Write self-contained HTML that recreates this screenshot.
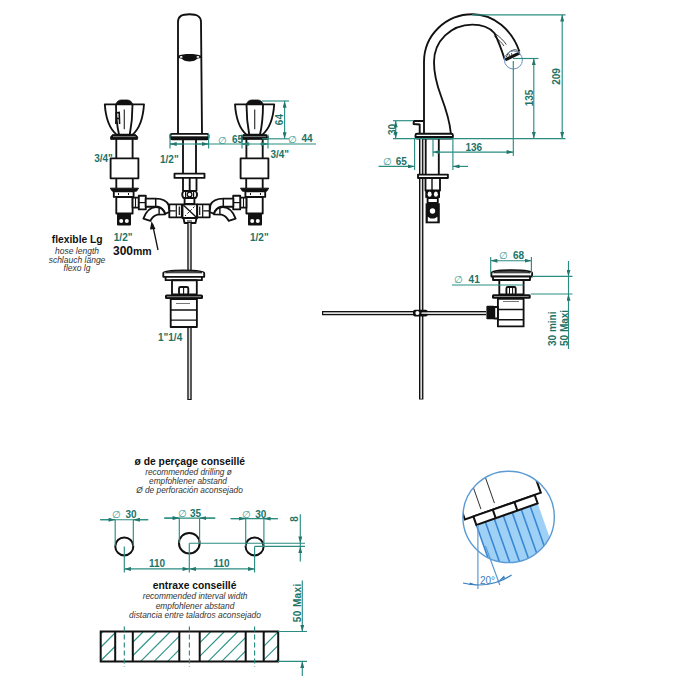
<!DOCTYPE html>
<html><head><meta charset="utf-8">
<style>
html,body{margin:0;padding:0;background:#fff;}
svg{display:block;}
text{font-family:"Liberation Sans",sans-serif;}
.k{stroke:#111;fill:none;stroke-width:1.85;stroke-linejoin:round;}
.kf{stroke:#111;fill:#fff;stroke-width:1.85;stroke-linejoin:round;}
.d{stroke:#2b8d82;fill:none;stroke-width:1.15;}
.t{fill:#1d7367;font-size:10px;font-weight:bold;}
.tb{fill:#111;font-weight:bold;}
.ti{fill:#333;font-style:italic;}
</style></head>
<body>
<svg width="700" height="700" viewBox="0 0 700 700">
<defs>
<marker id="ar" viewBox="0 0 10 6" refX="10" refY="3" markerWidth="7" markerHeight="4" orient="auto-start-reverse" markerUnits="userSpaceOnUse">
<path d="M0,0 L10,3 L0,6 z" fill="#22786e"/>
</marker>
<marker id="arb" viewBox="0 0 10 6" refX="10" refY="3" markerWidth="7" markerHeight="4" orient="auto-start-reverse" markerUnits="userSpaceOnUse">
<path d="M0,0 L10,3 L0,6 z" fill="#3a7fc0"/>
</marker>
</defs>

<!-- ================= FRONT VIEW ================= -->
<g id="front">
<!-- spout -->
<path class="k" d="M178,133.5 L178,22 C178,16 182,14.2 189.5,14.2 C197,14.2 201,16 201,22 L202,133.5"/>
<path d="M178,55.8 C183,53.4 196,53.4 201,55.8 L201,58 C198.5,58.2 197,58.6 196,59.8 C193.5,62 185.5,62 183,59.8 C182,58.6 180.5,58.2 178,58z" fill="#111"/>
<ellipse cx="181.2" cy="56.9" rx="1.4" ry="0.9" fill="#fff"/>
<ellipse cx="197.9" cy="56.9" rx="1.4" ry="0.9" fill="#fff"/>
<!-- flange -->
<rect class="kf" x="170.5" y="133.8" width="38" height="5.4" rx="1.5"/>
<rect x="171" y="136.3" width="37" height="2.8" fill="#111"/>
<!-- shank -->
<path class="k" d="M183,139 L183,173.5 M196,139 L196,173.5"/>
<rect class="kf" x="174.5" y="173.6" width="30" height="4.3"/>
<path class="k" d="M183,178 L183,191 M196.5,178 L196.5,191 M189.7,178 L189.7,191" stroke-width="1.5"/>
<path class="kf" d="M183.5,191 L195.7,191 Q198.3,194.5 195.7,198 L183.5,198 Q181,194.5 183.5,191z"/>
<path d="M185.6,191 L185.6,198 M193.6,191 L193.6,198" stroke="#111" stroke-width="1.2"/>
<circle cx="189.6" cy="194.5" r="2.3" fill="#fff" stroke="#111" stroke-width="1.3"/>
<rect class="kf" x="184.6" y="198" width="9.8" height="6"/>
<!-- cross -->
<rect class="kf" x="182.5" y="204.3" width="14.6" height="13.7"/>
<path d="M183,204.8 L196.6,217.5" stroke="#111" stroke-width="1.4"/>
<path d="M194.5,206.5 L185,216" stroke="#111" stroke-width="1" stroke-dasharray="2,2"/>
<path class="kf" d="M183.5,218 L196.5,218 L195.5,223 L184.5,223z"/>
<path d="M187,221 L192,221" stroke="#111" stroke-width="1"/>
<!-- side nuts -->
<rect class="kf" x="169.3" y="204.3" width="12.5" height="13"/>
<path d="M176.3,204.3 L176.3,217.3 M169.5,210.8 L175.5,210.8 M179.3,206.5 L179.3,215" stroke="#111" stroke-width="1.2"/>
<rect class="kf" x="197.2" y="204.3" width="12.5" height="13"/>
<path d="M202.7,204.3 L202.7,217.3 M203.5,210.8 L209.5,210.8 M199.7,206.5 L199.7,215" stroke="#111" stroke-width="1.2"/>
<!-- rod -->
<path d="M189.5,223 L189.5,400" stroke="#111" stroke-width="4.4"/>
<path d="M189.5,223 L189.5,399" stroke="#ddd" stroke-width="1.7"/>
</g>

<g id="valveL">
<!-- knob -->
<path class="kf" d="M104.8,104.3 L144,104.3 C143,120 138,130 132.6,134.6 L116.6,134.6 C111,130 105.8,120 104.8,104.3z"/>
<path class="k" stroke-width="1.2" d="M116,104.5 C116,118 117.5,128 119,134.5 M132.5,104.5 C132.5,118 131,128 129.8,134.5"/>
<path d="M115.5,104.5 L117.5,101.5 Q119,100 121,100 L127.5,100 Q129.5,100 131,101.5 L133,104.5z" fill="#111" stroke="#111" stroke-width="0.8"/>
<path d="M124.3,109.6 L124.3,129.3" stroke="#333" stroke-width="1.2"/>
<!-- ring -->
<path d="M112.5,134.6 L135.7,134.6 L137.8,137 L137.5,139.4 L110.7,139.4 L110.5,137z" fill="#111" stroke="#111" stroke-width="0.8" stroke-linejoin="round"/>
<path d="M113,136.6 L135.5,136.6" stroke="#888" stroke-width="0.9"/>
<!-- stem -->
<path class="k" d="M116.3,139 L116.3,158.2 M132.6,139 L132.6,158.2"/>
<rect class="kf" x="110.6" y="158.3" width="27.8" height="20"/>
<path class="k" d="M116.3,178.3 L116.3,188.3 M132.8,178.3 L132.8,188.3"/>
<path d="M110.3,188.2 L138.5,188.2 L136.5,191.2 L112.3,191.2z" fill="#111" stroke="#111" stroke-width="1"/>
<rect class="kf" x="113.8" y="191.3" width="19.8" height="5.6"/>
<path d="M118.5,193 L118.5,195 M128.5,193 L128.5,195" stroke="#111" stroke-width="1"/>
<rect class="kf" x="116.3" y="197" width="16.3" height="16.5"/>
<rect class="kf" x="132.6" y="197.6" width="6.2" height="10" stroke-width="1.4"/>
<path d="M135.5,197.6 L135.5,207.6" stroke="#111" stroke-width="1.1"/>
<rect class="kf" x="138.8" y="195.7" width="7" height="13.7"/>
<path d="M138.8,202.6 L145.8,202.6" stroke="#111" stroke-width="1.2"/>
<!-- bottom connector -->
<rect x="117" y="213.8" width="14" height="11.7" rx="1" fill="#111"/>
<circle cx="121.2" cy="221" r="2" fill="#fff"/>
<circle cx="126.8" cy="221" r="2" fill="#fff"/>
<!-- hose -->
<path class="kf" d="M145.7,198.6 L155.7,198.6 C161.5,198.6 166.8,201 168.6,205 L169.3,212 L165,213.8 C164,210 161.5,207.5 158,206.7 L145.7,206.7z"/>
<path d="M155.7,198.6 L155.7,206.7" stroke="#111" stroke-width="1.5"/>
<path class="kf" d="M143.4,218.6 C146,211.5 151,207.3 156,207.2 C160.5,207.2 163.8,210 165,214.3 L157.5,214.6 C154,215.5 152,217.5 150.3,220.9z"/>
<path d="M159.1,208 L159.1,214.5" stroke="#111" stroke-width="1.4"/>
</g>
<g transform="translate(379,0) scale(-1,1)">
<!-- knob -->
<path class="kf" d="M104.8,104.3 L144,104.3 C143,120 138,130 132.6,134.6 L116.6,134.6 C111,130 105.8,120 104.8,104.3z"/>
<path class="k" stroke-width="1.2" d="M116,104.5 C116,118 117.5,128 119,134.5 M132.5,104.5 C132.5,118 131,128 129.8,134.5"/>
<path d="M115.5,104.5 L117.5,101.5 Q119,100 121,100 L127.5,100 Q129.5,100 131,101.5 L133,104.5z" fill="#111" stroke="#111" stroke-width="0.8"/>
<path d="M124.3,109.6 L124.3,129.3" stroke="#333" stroke-width="1.2"/>
<!-- ring -->
<path d="M112.5,134.6 L135.7,134.6 L137.8,137 L137.5,139.4 L110.7,139.4 L110.5,137z" fill="#111" stroke="#111" stroke-width="0.8" stroke-linejoin="round"/>
<path d="M113,136.6 L135.5,136.6" stroke="#888" stroke-width="0.9"/>
<!-- stem -->
<path class="k" d="M116.3,139 L116.3,158.2 M132.6,139 L132.6,158.2"/>
<rect class="kf" x="110.6" y="158.3" width="27.8" height="20"/>
<path class="k" d="M116.3,178.3 L116.3,188.3 M132.8,178.3 L132.8,188.3"/>
<path d="M110.3,188.2 L138.5,188.2 L136.5,191.2 L112.3,191.2z" fill="#111" stroke="#111" stroke-width="1"/>
<rect class="kf" x="113.8" y="191.3" width="19.8" height="5.6"/>
<path d="M118.5,193 L118.5,195 M128.5,193 L128.5,195" stroke="#111" stroke-width="1"/>
<rect class="kf" x="116.3" y="197" width="16.3" height="16.5"/>
<rect class="kf" x="132.6" y="197.6" width="6.2" height="10" stroke-width="1.4"/>
<path d="M135.5,197.6 L135.5,207.6" stroke="#111" stroke-width="1.1"/>
<rect class="kf" x="138.8" y="195.7" width="7" height="13.7"/>
<path d="M138.8,202.6 L145.8,202.6" stroke="#111" stroke-width="1.2"/>
<!-- bottom connector -->
<rect x="117" y="213.8" width="14" height="11.7" rx="1" fill="#111"/>
<circle cx="121.2" cy="221" r="2" fill="#fff"/>
<circle cx="126.8" cy="221" r="2" fill="#fff"/>
<!-- hose -->
<path class="kf" d="M145.7,198.6 L155.7,198.6 C161.5,198.6 166.8,201 168.6,205 L169.3,212 L165,213.8 C164,210 161.5,207.5 158,206.7 L145.7,206.7z"/>
<path d="M155.7,198.6 L155.7,206.7" stroke="#111" stroke-width="1.5"/>
<path class="kf" d="M143.4,218.6 C146,211.5 151,207.3 156,207.2 C160.5,207.2 163.8,210 165,214.3 L157.5,214.6 C154,215.5 152,217.5 150.3,220.9z"/>
<path d="M159.1,208 L159.1,214.5" stroke="#111" stroke-width="1.4"/>
</g>
<path d="M115.8,124 L116.2,113 L119.2,112.5 L119.6,124 M116,118.5 L119.3,118.5" stroke="#111" stroke-width="1.6" fill="none"/>

<!-- front dims -->
<g class="d">
<path d="M170,134 L170,148.5 M208.6,134 L208.6,148.5"/>
<path d="M242,144 L250,144" marker-start="url(#ar)"/>
<path d="M260,144 L268,144" marker-end="url(#ar)"/>
<path d="M242,134.5 L242,148.5 M268,134.5 L268,148.5"/>
<path d="M170,144 L316,144"/>
<path d="M170,144 L182,144" marker-start="url(#ar)"/>
<path d="M196,144 L208.6,144" marker-end="url(#ar)"/>
<path d="M262,138.8 L289,138.8"/>
<path d="M262,101 L289,101"/>
<path d="M284.6,101 L284.6,138.8" marker-start="url(#ar)" marker-end="url(#ar)"/>
</g>
<text class="t" x="218" y="143.8" font-weight="normal" style="font-weight:normal;fill:#3a9a90">&#8709;</text>
<text class="t" x="232" y="143.3">65</text>
<text class="t" x="288.3" y="142.6" style="font-weight:normal;fill:#3a9a90">&#8709;</text>
<text class="t" x="301.5" y="141.8">44</text>
<text class="t" transform="translate(283,119.6) rotate(-90)" text-anchor="middle">64</text>
<text class="t" x="94.2" y="162.3">3/4"</text>
<text class="t" x="160" y="163.1">1/2"</text>
<text class="t" x="270.4" y="158.2">3/4"</text>
<text class="t" x="113.8" y="240.6">1/2"</text>
<text class="t" x="250" y="240.6">1/2"</text>
<text class="t" x="158" y="341.2">1"1/4</text>
<text class="tb" x="77.2" y="242.5" font-size="10.3" text-anchor="middle">flexible Lg</text>
<text class="ti" x="77" y="253.6" font-size="8.5" text-anchor="middle">hose length</text>
<text class="ti" x="77" y="262.5" font-size="8.5" text-anchor="middle">schlauch länge</text>
<text class="ti" x="77" y="271.2" font-size="8.5" text-anchor="middle">flexo lg</text>
<text class="tb" x="113" y="254.7" font-size="12">300<tspan font-size="10.5">mm</tspan></text>
<path d="M158,250 L152.5,224" stroke="#111" stroke-width="1.3"/>
<path d="M151.5,221 L155.5,229 L150,229.5z" fill="#111"/>

<!-- drain front -->
<g>
<path class="kf" d="M163.3,273 C163.3,270.5 175,270.3 183.5,270.3 C192,270.3 204.2,270.5 204.2,273 L204.2,276.8 L163.3,276.8z"/>
<path d="M165.5,272.8 C170,271.3 178,271 183.7,271 C189.5,271 197.5,271.3 202,272.8z" fill="#666" stroke="#222" stroke-width="0.9"/>
<rect x="172" y="280.3" width="24.8" height="1.8" fill="#222"/>
<rect class="kf" x="165.6" y="276.9" width="36.3" height="3.3"/>
<path class="kf" d="M172,280.2 L196.8,280.2 L196.8,294.4 L172,294.4z"/>
<rect class="kf" x="179" y="287" width="9.3" height="7.3" rx="1.5" stroke-width="1.3"/>
<path d="M183.6,287 L183.6,294.3" stroke="#111" stroke-width="1.1"/>
<rect x="165" y="294.4" width="38" height="4.6" rx="1.5" fill="#111"/>
<rect x="167" y="296.2" width="34" height="1" fill="#888"/>
<path class="kf" d="M170.7,299 L196.9,299 L196.9,327 L170.7,327z"/>
<path d="M170.7,310 L196.9,310 M170.7,320.1 L196.9,320.1" stroke="#111" stroke-width="1.4"/>
<path d="M176,303.5 L190,303.5" stroke="#555" stroke-width="0.8"/>
</g>

<!-- ================= SIDE VIEW ================= -->
<g id="side">
<path class="k" d="M424,133.5 L424,62 C424,35 446,14.3 472.5,14.3 C494,14.3 512,30 519.4,51.5"/>
<path class="k" d="M450.8,133 C450,124 447,112 441,96 C436.5,84 434,74 434,62 C434,41 451,24.6 472.3,24.6 C482,24.6 490,28 494.3,33 C499,42 502,51 504.8,59.6"/>
<path d="M495.4,33.8 C500,37 504,41 506.3,44.6 M494.5,36.5 C498.5,39.5 502,43 504,46" stroke="#111" stroke-width="0.8" fill="none"/>
<path d="M505.3,59.8 L519.8,52.8" stroke="#111" stroke-width="3"/>
<path d="M506.5,57 C507.5,52.5 511,50 515.5,49.8 C517,50 518,51 518.3,52.3" stroke="#333" stroke-width="1" fill="none"/>
<path d="M509,54 L509.8,57.5 M511.5,53 L512,55.5" stroke="#333" stroke-width="0.9"/>
<circle cx="513.4" cy="60" r="9" fill="none" stroke="#6d8fbd" stroke-width="1"/>
<!-- lever -->
<path class="k" stroke-width="1.4" d="M424,121 L414,121 L413.5,124 L419.7,124.5 L419.7,133.5"/>
<!-- flange -->
<rect class="kf" x="415.5" y="133.7" width="37.4" height="4.9" rx="1.5"/>
<rect x="416" y="136" width="36.5" height="2.6" fill="#111"/>
<!-- rod -->
<path d="M421.2,138 L421.2,399.5" stroke="#111" stroke-width="4.4"/>
<path d="M421.2,139 L421.2,398.8" stroke="#ddd" stroke-width="1.7"/>
<path class="k" d="M425.7,138.6 L425.7,174.5 M438.8,138.6 L438.8,174.5"/>
<rect class="kf" x="418" y="174.6" width="29.9" height="3.4"/>
<rect class="kf" x="425.5" y="178" width="14.5" height="12.5"/>
<path d="M432,178 L432,190.5" stroke="#111" stroke-width="1.4"/>
<rect x="425.3" y="190.3" width="14.7" height="7.6" fill="#111"/>
<ellipse cx="429.6" cy="194.2" rx="2" ry="2.6" fill="#fff"/>
<ellipse cx="435.9" cy="194.2" rx="2" ry="2.6" fill="#fff"/>
<rect class="kf" x="427.6" y="198" width="10.2" height="5"/>
<path d="M425.6,203.3 L439.8,203.3 L439.8,223.3 L425.6,223.3z" fill="#111"/>
<circle cx="432.5" cy="211" r="2.7" fill="#fff"/>
<path d="M427.8,216.8 L430.5,218.5 L434.5,218.5 L437.4,216.8 L437.4,221.6 L427.8,221.6z" fill="#fff"/>
<!-- drain side -->
<path class="kf" d="M491.4,273 C491.4,270.7 502,270.2 511.7,270.2 C521.5,270.2 532.1,270.7 532.1,273 L532.1,276.5 L491.4,276.5z"/>
<path d="M493.6,272.8 C498,271.3 506,271 511.7,271 C517.5,271 525.5,271.3 530,272.8z" fill="#666" stroke="#222" stroke-width="0.9"/>
<rect x="499.3" y="280.3" width="24.3" height="1.8" fill="#222"/>
<rect class="kf" x="493" y="276.6" width="37" height="3.4"/>
<rect class="kf" x="499.3" y="280" width="24.3" height="14.5"/>
<rect class="kf" x="506.4" y="287" width="9.3" height="7.5" rx="1.5" stroke-width="1.3"/>
<path d="M509.5,287 L509.5,294.3 M512.6,287 L512.6,294.3" stroke="#111" stroke-width="1"/>
<rect x="492" y="294.3" width="38.7" height="4.4" rx="1.5" fill="#111"/>
<rect x="494" y="296" width="34.7" height="1" fill="#888"/>
<path class="kf" d="M497.9,298.7 L523.6,298.7 L523.6,326.4 L497.9,326.4z"/>
<path d="M497.9,309.5 L523.6,309.5 M497.9,319.8 L523.6,319.8" stroke="#111" stroke-width="1.5"/>
<path d="M503,301.5 L519,301.5" stroke="#555" stroke-width="0.8"/>
<rect class="kf" x="494.3" y="307" width="3.6" height="11.5" stroke-width="1.2"/>
<rect x="486.4" y="305.7" width="8" height="13.6" rx="1" fill="#111"/>
<path d="M322,313.1 L486,313.1" stroke="#111" stroke-width="4.2"/>
<path d="M323.2,313.1 L486,313.1" stroke="#ddd" stroke-width="1.6"/>
<rect x="413" y="309.7" width="14.7" height="6.8" rx="2" fill="#111"/>
<circle cx="417.4" cy="313.1" r="2" fill="#fff"/>
<rect x="421.5" y="312.3" width="6.5" height="1.6" fill="#ddd"/>
</g>
<!-- side dims -->
<g class="d">
<path d="M472,14.8 L565.5,14.8"/>
<path d="M513,58.5 L538.5,58.5"/>
<path d="M393,138.6 L565.5,138.6"/>
<path d="M562.2,14.8 L562.2,138.6" marker-start="url(#ar)" marker-end="url(#ar)"/>
<path d="M533.8,58.5 L533.8,138.6" marker-start="url(#ar)" marker-end="url(#ar)"/>
<path d="M513.3,61 L513.3,156"/>
<path d="M433,138.6 L433,156.5"/>
<path d="M433,152.1 L513.3,152.1" marker-start="url(#ar)" marker-end="url(#ar)"/>
<path d="M414.6,138.6 L414.6,170 M452.9,138.6 L452.9,170"/>
<path d="M378.6,166.4 L414.6,166.4" marker-end="url(#ar)"/>
<path d="M452.9,166.4 L468,166.4" marker-start="url(#ar)"/>
<path d="M393,120.7 L413,120.7"/>
<path d="M395.7,120.7 L395.7,138.6" marker-start="url(#ar)" marker-end="url(#ar)"/>
<path d="M490.7,257 L490.7,273.6 M531.4,257 L531.4,273.6"/>
<path d="M490.7,260.7 L531.4,260.7" marker-start="url(#ar)" marker-end="url(#ar)"/>
<path d="M452,285 L523.6,285"/>
<path d="M532,276.4 L572.5,276.4 M530.7,294 L572.5,294"/>
<path d="M568.5,261 L568.5,276.4" marker-end="url(#ar)"/>
<path d="M568.5,276.4 L568.5,294"/>
<path d="M568.5,294 L568.5,349" marker-start="url(#ar)"/>
</g>
<text class="t" transform="translate(560,76.5) rotate(-90)" text-anchor="middle">209</text>
<text class="t" transform="translate(532.5,98) rotate(-90)" text-anchor="middle">135</text>
<text class="t" x="465.4" y="151">136</text>
<text class="t" x="383" y="165.1" style="font-weight:normal;fill:#3a9a90">&#8709;</text>
<text class="t" x="395.7" y="165.1">65</text>
<text class="t" transform="translate(396,129.5) rotate(-90)" text-anchor="middle">30</text>
<text class="t" x="498.6" y="258.6" style="font-weight:normal;fill:#3a9a90">&#8709;</text>
<text class="t" x="512.9" y="258.6">68</text>
<text class="t" x="454" y="282.9" style="font-weight:normal;fill:#3a9a90">&#8709;</text>
<text class="t" x="468.6" y="282.9">41</text>
<text class="t" transform="translate(556,346) rotate(-90)">30  mini</text>
<text class="t" transform="translate(567.7,346) rotate(-90)">50 Maxi</text>

<!-- ================= BOTTOM SECTION ================= -->
<text class="tb" x="189.8" y="465.3" font-size="10.3" text-anchor="middle">ø de perçage conseillé</text>
<text class="ti" x="188.5" y="474.6" font-size="8.3" text-anchor="middle">recommended drilling ø</text>
<text class="ti" x="188" y="483.8" font-size="8.3" text-anchor="middle">empfohlener abstand</text>
<text class="ti" x="189.5" y="493.3" font-size="8.3" text-anchor="middle">Ø de perforación aconsejado</text>

<g>
<circle cx="124.3" cy="546.4" r="9" fill="none" stroke="#111" stroke-width="2"/>
<circle cx="189.3" cy="543.2" r="10.3" fill="none" stroke="#111" stroke-width="2"/>
<circle cx="254.6" cy="546.4" r="9" fill="none" stroke="#111" stroke-width="2"/>
</g>
<g class="d">
<path d="M115.2,519.7 L115.2,546 M133.3,519.7 L133.3,546"/>
<path d="M100.2,519.7 L148.2,519.7"/>
<path d="M100.2,519.7 L115.2,519.7" marker-end="url(#ar)"/>
<path d="M133.3,519.7 L148.2,519.7" marker-start="url(#ar)"/>
<path d="M179.3,518.1 L179.3,543 M199.6,518.1 L199.6,543"/>
<path d="M164.3,518.1 L215.2,518.1"/>
<path d="M164.3,518.1 L179.3,518.1" marker-end="url(#ar)"/>
<path d="M199.6,518.1 L215.2,518.1" marker-start="url(#ar)"/>
<path d="M245.7,518.6 L245.7,546 M263.9,518.6 L263.9,546"/>
<path d="M230.7,518.6 L277.8,518.6"/>
<path d="M230.7,518.6 L245.7,518.6" marker-end="url(#ar)"/>
<path d="M263.9,518.6 L277.8,518.6" marker-start="url(#ar)"/>
<path d="M124.3,546.4 L124.3,572.5 M189.3,543.2 L189.3,572.5 M254.6,546.4 L254.6,572.5"/>
<path d="M189.3,543.2 L305,543.2 M254.6,546.4 L305,546.4 M300.3,543.2 L300.3,546.4"/>
<path d="M124.3,568.9 L189.3,568.9" marker-start="url(#ar)" marker-end="url(#ar)"/>
<path d="M189.3,568.9 L254.6,568.9" marker-start="url(#ar)" marker-end="url(#ar)"/>
<path d="M300.3,514.3 L300.3,543.2" marker-end="url(#ar)"/>
<path d="M300.3,546.4 L300.3,561.4" marker-start="url(#ar)"/>
</g>
<text class="t" x="112" y="518.3" style="font-weight:normal;fill:#3a9a90">&#8709;</text>
<text class="t" x="125.4" y="518.3">30</text>
<text class="t" x="178.2" y="517.4" style="font-weight:normal;fill:#3a9a90">&#8709;</text>
<text class="t" x="190" y="517.4">35</text>
<text class="t" x="242.4" y="518" style="font-weight:normal;fill:#3a9a90">&#8709;</text>
<text class="t" x="255.3" y="518">30</text>
<text class="t" x="149" y="566.8">110</text>
<text class="t" x="213.5" y="566.7">110</text>
<text class="t" transform="translate(298.3,519) rotate(-90)" text-anchor="middle">8</text>

<text class="tb" x="194.6" y="589" font-size="10.3" text-anchor="middle">entraxe conseillé</text>
<text class="ti" x="195" y="599.2" font-size="8.4" text-anchor="middle">recommended interval width</text>
<text class="ti" x="195" y="608.5" font-size="8.4" text-anchor="middle">empfohlener abstand</text>
<text class="ti" x="195" y="617.6" font-size="8.4" text-anchor="middle">distancia entre taladros aconsejado</text>

<!-- hatched block -->
<defs>
<clipPath id="c1"><rect x="101" y="632" width="14" height="29.5"/></clipPath>
<clipPath id="c2"><rect x="133" y="632" width="46.2" height="29.5"/></clipPath>
<clipPath id="c3"><rect x="199.7" y="632" width="46" height="29.5"/></clipPath>
<clipPath id="c4"><rect x="263.7" y="632" width="14.5" height="29.5"/></clipPath>
<pattern id="hp" patternUnits="userSpaceOnUse" width="12.6" height="12.6" patternTransform="rotate(45)">
<line x1="0" y1="0" x2="0" y2="12.6" stroke="#26968a" stroke-width="1.4"/>
</pattern>
</defs>
<path d="M101.0,633.5 L102.5,632.0 M101.0,647.0 L115.0,633.0 M101.0,660.5 L115.0,646.5 M113.7,661.3 L115.0,660.0 M133.0,642.0 L143.0,632.0 M133.0,655.5 L156.5,632.0 M140.7,661.3 L170.0,632.0 M154.2,661.3 L179.3,636.2 M167.7,661.3 L179.3,649.7 M199.7,642.8 L210.5,632.0 M199.7,656.3 L224.0,632.0 M208.2,661.3 L237.5,632.0 M221.7,661.3 L245.7,637.3 M235.2,661.3 L245.7,650.8 M263.7,632.8 L264.5,632.0 M263.7,646.3 L278.0,632.0 M263.7,659.8 L278.2,645.3 M275.7,661.3 L278.2,658.8" stroke="#2f9488" stroke-width="1.15" fill="none"/>
<rect x="100.7" y="631.5" width="177.5" height="30" fill="none" stroke="#111" stroke-width="2"/>
<path d="M115.2,631.5 L115.2,661.5 M132.8,631.5 L132.8,661.5 M179.3,631.5 L179.3,661.5 M199.7,631.5 L199.7,661.5 M245.7,631.5 L245.7,661.5 M263.7,631.5 L263.7,661.5" stroke="#111" stroke-width="2"/>
<g class="d">
<path d="M124.3,626.5 L124.3,667 M189.4,626.5 L189.4,667 M254.6,626.5 L254.6,667" stroke-dasharray="5,3"/>
<path d="M278,631.5 L307,631.5 M278,661.3 L307,661.3"/>
<path d="M302.3,580.4 L302.3,631.5" marker-end="url(#ar)"/>
<path d="M302.3,661.3 L302.3,676" marker-start="url(#ar)"/>
</g>
<text class="t" transform="translate(301,622.2) rotate(-90)" textLength="38.5" lengthAdjust="spacing">50 Maxi</text>

<!-- ================= AERATOR DETAIL ================= -->
<defs>
<clipPath id="cc"><circle cx="508.6" cy="516.9" r="45.7"/></clipPath>
</defs>
<g clip-path="url(#cc)">
<g transform="translate(464.9,519.5) rotate(-19.4)">
<rect x="9" y="9" width="65" height="90" fill="#9fd1f7"/>
<path d="M9,9 L9,99 M18.5,9 L18.5,99 M28,9 L28,99 M37.5,9 L37.5,99 M47,9 L47,99 M56.5,9 L56.5,99 M66,9 L66,99" stroke="#3a88d4" stroke-width="1.6"/>
<path d="M0,-70 L0,0 L80.5,0 L80.5,-70" fill="#fff" stroke="#111" stroke-width="2"/>
<rect x="9" y="0" width="65" height="9" fill="#fff" stroke="#111" stroke-width="2"/>
<path d="M29.5,0 L29.5,9 M52.5,0 L52.5,9" stroke="#111" stroke-width="2"/>
<path d="M18.6,-4.5 L18.6,-45 M33.3,-5.6 L33.3,-45" stroke="#333" stroke-width="1"/>
</g>
</g>
<circle cx="508.6" cy="516.9" r="45.7" fill="none" stroke="#5b9bd5" stroke-width="1.4"/>
<path d="M477.9,525 L477.9,589 M485.5,546 L499.8,585" stroke="#5b9bd5" stroke-width="1.2" fill="none"/>
<path d="M463,583 A60.3,60.3 0 0 0 511.6,575" stroke="#3a7fc0" stroke-width="1.2" fill="none"/>
<path d="M469,584.8 L477.5,585.3 L470,582.5z M505,578 L498.5,581 L504,575.5z" fill="#3a7fc0"/>
<text x="480" y="583.6" font-size="10" fill="#3a7fc0">20°</text>

</svg>
</body></html>
